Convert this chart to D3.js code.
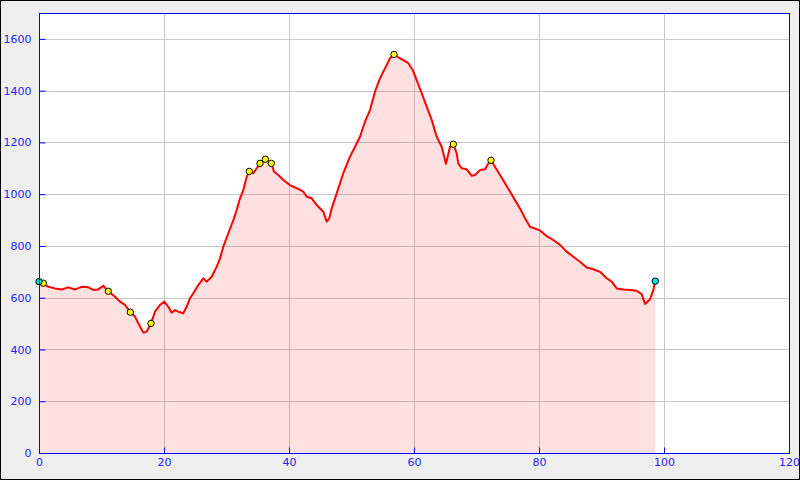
<!DOCTYPE html>
<html>
<head>
<meta charset="utf-8">
<script src="https://cdn.jsdelivr.net/npm/d3@7"></script>
<style>
  html, body { margin: 0; padding: 0; background: #eeeeee; }
  svg { display: block; }
  text { font-family: "DejaVu Sans", sans-serif; }
</style>
</head>
<body>
<svg id="chart" width="800" height="480"></svg>
<script>
// Distance (km) and elevation (m) of the profile
const distance = [0, 0.69, 1.49, 2.56, 3.63, 4.69, 5.76, 6.83, 7.89, 8.69, 9.49, 10.29, 11.09, 12.16, 12.96, 13.76, 14.61, 15.36, 15.89, 16.69, 17.23, 17.92, 18.56, 19.36, 20.05, 20.69, 21.23, 21.76, 22.29, 23.09, 23.63, 24.16, 24.69, 25.49, 26.29, 26.83, 27.63, 28.43, 28.96, 29.49, 30.29, 31.09, 31.63, 32.16, 32.69, 33.23, 33.65, 34.29, 34.83, 35.36, 36.21, 36.85, 37.17, 37.6, 38.29, 39.09, 40.16, 41.23, 42.29, 42.83, 43.63, 44.43, 45.49, 46.03, 46.45, 46.83, 47.63, 48.16, 48.69, 49.76, 50.56, 51.36, 52.16, 52.96, 53.76, 54.56, 55.36, 56.16, 56.8, 57.49, 58.29, 59.09, 59.79, 60.43, 61.23, 62.03, 62.83, 63.63, 64.43, 65.12, 65.76, 66.29, 66.83, 67.09, 67.63, 68.43, 69.23, 69.76, 70.56, 71.36, 71.89, 72.32, 72.96, 73.76, 74.56, 75.36, 76.16, 76.96, 77.76, 78.56, 80.16, 81.23, 82.29, 83.36, 84.43, 85.49, 86.56, 87.63, 88.69, 89.76, 90.83, 91.63, 92.43, 93.49, 94.56, 95.63, 96.43, 96.96, 97.76, 98.29, 98.61];
const elevation = [650, 656, 642, 636, 632, 640, 632, 642, 640, 630, 632, 646, 625, 604, 585, 572, 544, 527, 501, 465, 469, 501, 546, 572, 585, 565, 542, 552, 546, 540, 565, 598, 617, 649, 675, 662, 681, 720, 752, 797, 849, 900, 939, 984, 1016, 1067, 1088, 1081, 1100, 1119, 1135, 1125, 1119, 1087, 1074, 1055, 1035, 1023, 1010, 990, 984, 958, 932, 894, 907, 945, 1003, 1042, 1081, 1145, 1183, 1222, 1280, 1325, 1396, 1448, 1486, 1525, 1540, 1529, 1518, 1506, 1480, 1441, 1390, 1338, 1287, 1222, 1183, 1117, 1183, 1193, 1158, 1119, 1100, 1096, 1071, 1074, 1093, 1096, 1119, 1131, 1106, 1074, 1042, 1010, 977, 945, 907, 874, 860, 838, 823, 804, 778, 758, 739, 717, 710, 700, 675, 662, 636, 632, 630, 627, 614, 576, 594, 630, 664];

// Waypoint markers
const waypointX = [0.69, 11.09, 14.61, 17.92, 33.65, 35.36, 36.21, 37.17, 56.8, 66.29, 72.32];
const waypointY = [656, 625, 544, 501, 1088, 1119, 1135, 1119, 1540, 1193, 1131];
const endpointX = [0, 98.61];
const endpointY = [662, 664];

// Axis ticks
const xTicks = [0, 20, 40, 60, 80, 100, 120];
const yTicks = [0, 200, 400, 600, 800, 1000, 1200, 1400, 1600];

(function () {
const svg = d3.select("#chart");
const W = 800, H = 480;
const pLeft = 39, pRight = 789, pTop = 13, pBottom = 453;

const x = d3.scaleLinear().domain([0, 120]).range([pLeft, pRight]);
const y = d3.scaleLinear().domain([0, 1700]).range([pBottom, pTop]);

// background + outer border
svg.append("rect").attr("x", 0.5).attr("y", 0.5).attr("width", W - 1).attr("height", H - 1)
  .attr("fill", "#eeeeee").attr("stroke", "#000").attr("stroke-width", 1);
svg.append("rect").attr("x", pLeft).attr("y", pTop).attr("width", pRight - pLeft).attr("height", pBottom - pTop)
  .attr("fill", "#ffffff");

// grid
const grid = svg.append("g").attr("stroke", "#c8c8c8").attr("stroke-width", 1).attr("shape-rendering", "crispEdges");
grid.selectAll(".gx").data(xTicks.filter(t => t > 0 && t < 120)).join("line")
  .attr("x1", d => Math.round(x(d)) + 0.5).attr("x2", d => Math.round(x(d)) + 0.5)
  .attr("y1", pTop).attr("y2", pBottom);
grid.selectAll(".gy").data(yTicks.filter(t => t > 0)).join("line")
  .attr("y1", d => Math.round(y(d)) + 0.5).attr("y2", d => Math.round(y(d)) + 0.5)
  .attr("x1", pLeft).attr("x2", pRight);

const pts = distance.map((d, i) => [d, elevation[i]]);

// area
const area = d3.area().x(d => x(d[0])).y0(y(0)).y1(d => y(d[1]));
svg.append("path").datum(pts).attr("d", area).attr("fill", "rgba(255,0,0,0.12)");

// line
const line = d3.line().x(d => x(d[0])).y(d => y(d[1]));
svg.append("path").datum(pts).attr("d", line)
  .attr("fill", "none").attr("stroke", "#ff0000").attr("stroke-width", 2).attr("stroke-linejoin", "round");

// markers
svg.append("g").selectAll("circle").data(waypointX.map((d, i) => [d, waypointY[i]])).join("circle")
  .attr("cx", d => x(d[0])).attr("cy", d => y(d[1])).attr("r", 3.2)
  .attr("fill", "#ffff00").attr("stroke", "#000").attr("stroke-width", 1);
svg.append("g").selectAll("circle").data(endpointX.map((d, i) => [d, endpointY[i]])).join("circle")
  .attr("cx", d => x(d[0])).attr("cy", d => y(d[1])).attr("r", 3.2)
  .attr("fill", "#00e0e0").attr("stroke", "#000").attr("stroke-width", 1);

// frame
svg.append("rect").attr("x", pLeft + 0.5).attr("y", pTop + 0.5).attr("width", pRight - pLeft).attr("height", pBottom - pTop)
  .attr("fill", "none").attr("stroke", "#0000ff").attr("stroke-width", 1);

// axes
const axisColor = "#0000ff";
const textColor = "#2424ff";
const yAxis = svg.append("g").attr("transform", `translate(${pLeft + 0.5},0)`)
  .call(d3.axisLeft(y).tickValues(yTicks).tickSize(-6).tickSizeOuter(0).tickPadding(8).tickFormat(d3.format("d")));
const xAxis = svg.append("g").attr("transform", `translate(0,${pBottom + 0.5})`)
  .call(d3.axisBottom(x).tickValues(xTicks).tickSize(-6).tickSizeOuter(0).tickPadding(5).tickFormat(d3.format("d")));
[xAxis, yAxis].forEach(a => {
  a.select(".domain").remove();
  a.selectAll("line").attr("stroke", axisColor);
  a.selectAll("text").attr("fill", textColor).attr("font-size", 11).attr("font-family", "DejaVu Sans, sans-serif");
});
})();
</script>
</body>
</html>
